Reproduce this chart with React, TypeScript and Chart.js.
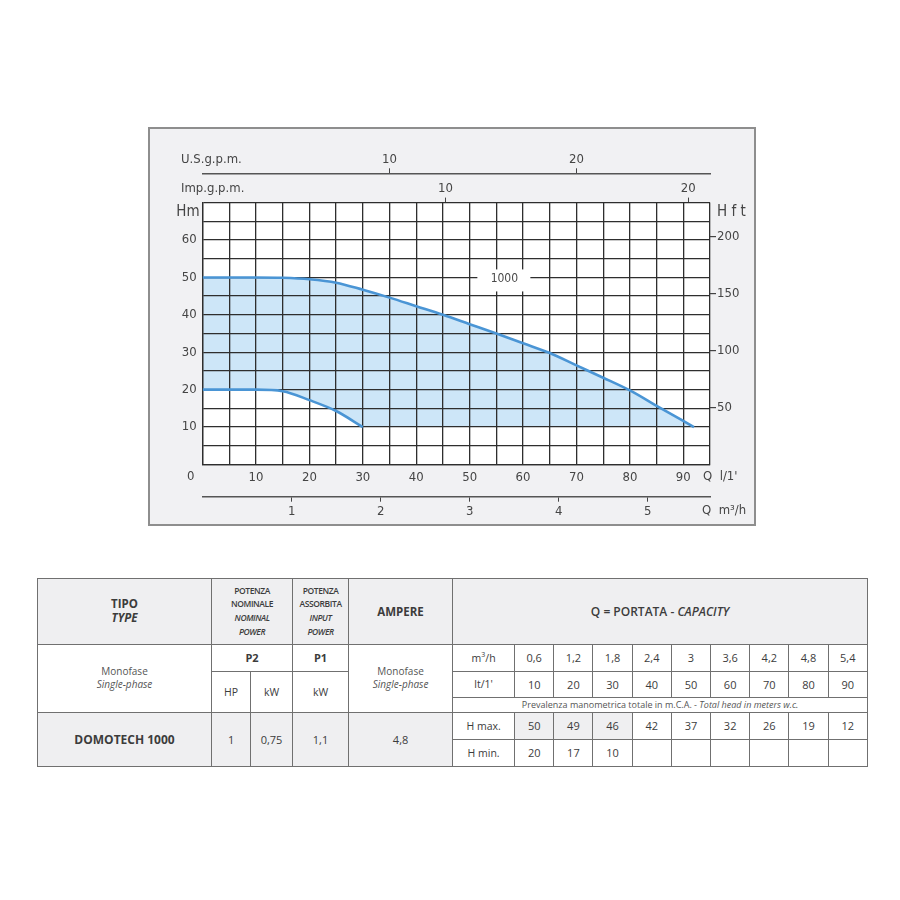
import React, { useEffect, useRef } from "react";
import { Chart, registerables } from "chart.js";

Chart.register(...registerables);

// ---- Curve data (Q in l/min, H in m) ----
const hMaxFlow = [0, 10, 15, 20, 25, 30, 35, 40, 45, 50, 55, 60, 65, 70, 75, 80, 85, 92];
const hMaxHead = [50, 50, 49.9, 49.5, 48.6, 46.7, 44.6, 42.3, 40, 37.5, 35, 32.4, 29.8, 26.5, 23.2, 19.8, 15.7, 10];
const hMinFlow = [0, 10, 15, 20, 25, 30];
const hMinHead = [20, 20, 19.6, 17.2, 14.3, 10];
const fillFloorHead = 10;

const curveLabel = "1000";
const curveLabelFlow = 56.5;
const curveLabelHead = 50;

// ---- Axis ranges / unit conversions ----
const flowMax = 95; // l/min
const headMax = 70; // m
const lpmPerM3h = 1000 / 60;
const lpmPerImpGal = 4.546;
const lpmPerUsGalDrawn = 3.5; // as drawn on the chart
const ftPerM = 3.28084;

// ---- Table data ----
const qM3h = ["0,6", "1,2", "1,8", "2,4", "3", "3,6", "4,2", "4,8", "5,4"];
const qLpm = ["10", "20", "30", "40", "50", "60", "70", "80", "90"];
const hMaxRow = ["50", "49", "46", "42", "37", "32", "26", "19", "12"];
const hMinRow = ["20", "17", "10", "", "", "", "", "", ""];
const modelName = "DOMOTECH 1000";
const modelHP = "1";
const modelKW = "0,75";
const modelP1 = "1,1";
const modelAmp = "4,8";

// ---- Styles ----
const FONT = "'Liberation Sans Narrow', 'DejaVu Sans Condensed', 'Roboto', sans-serif";
const TFONT = "'Open Sans', 'Noto Sans', sans-serif";
const TXT = "#454545";
const GRID = "#2e2e2e";
const LINE = "#4a95d5";
const FILL = "#cde6f8";

const AX_LEFT = 52.6;
const AX_RIGHT = 44;
const AX_US = 44.3;
const AX_IMP = 29.3;
const AX_LPM = 32.2;
const AX_M3H = 27.3;
const CW = 604;
const CH = 395;

const tickFont = { family: FONT, size: 13 };
const hideZero = (c: any) => (c.tick && c.tick.value === 0 ? "rgba(0,0,0,0)" : "#444");

const labelsPlugin = {
  id: "titles",
  afterDraw(chart: any) {
    const { ctx, chartArea: a, scales } = chart;
    const xs = scales.x;
    const ys = scales.y;
    ctx.save();
    // curve label with white box
    const lx = xs.getPixelForValue(curveLabelFlow);
    const ly = ys.getPixelForValue(curveLabelHead);
    ctx.fillStyle = "#ffffff";
    ctx.fillRect(lx - 27, ly - 8, 53, 22);
    ctx.fillStyle = "#4a4a4a";
    ctx.font = `12px ${FONT}`;
    ctx.textAlign = "center";
    ctx.textBaseline = "middle";
    ctx.fillText(curveLabel, lx, ly + 1.5);

    ctx.fillStyle = TXT;
    ctx.font = `13px ${FONT}`;
    ctx.textAlign = "left";
    ctx.fillText("U.S.g.p.m.", a.left - 21.6, scales.us.bottom - 14);
    ctx.fillText("Imp.g.p.m.", a.left - 21.6, a.top - 13.5);
    ctx.fillText("Q  l/1'", a.right - 7, a.bottom + 12.5);
    ctx.fillText("Q  m\u00b3/h", a.right - 8, scales.m3h.top + 14);
    ctx.textAlign = "center";
    ctx.fillText("0", a.left - 12, a.bottom + 12.5);
    ctx.font = `15px ${FONT}`;
    ctx.textAlign = "right";
    ctx.fillText("Hm", a.left - 3, a.top + 9.5);
    ctx.textAlign = "left";
    ctx.fillText("H f t", a.right + 7, a.top + 9.5);
    ctx.restore();
  },
};

function PumpChart() {
  const ref = useRef<HTMLCanvasElement>(null);
  useEffect(() => {
    const chart = new Chart(ref.current as HTMLCanvasElement, {
      type: "line",
      data: {
        datasets: [
          {
            label: "H min",
            data: hMinFlow.map((q, i) => ({ x: q, y: hMinHead[i] })),
            borderColor: LINE,
            borderWidth: 2.6,
            pointRadius: 0,
            cubicInterpolationMode: "monotone",
            fill: { value: fillFloorHead },
            backgroundColor: "#ffffff",
          },
          {
            label: "H max",
            data: hMaxFlow.map((q, i) => ({ x: q, y: hMaxHead[i] })),
            borderColor: LINE,
            borderWidth: 2.6,
            pointRadius: 0,
            cubicInterpolationMode: "monotone",
            fill: { value: fillFloorHead },
            backgroundColor: FILL,
          },
        ],
      } as any,
      options: {
        animation: false,
        responsive: true,
        maintainAspectRatio: false,
        layout: { padding: 0 },
        plugins: {
          legend: { display: false },
          tooltip: { enabled: false },
          filler: { drawTime: "beforeDraw" },
        } as any,
        scales: {
          x: {
            type: "linear",
            position: "bottom",
            min: 0,
            max: flowMax,
            weight: 0,
            ticks: {
              stepSize: 5,
              autoSkip: false,
              maxRotation: 0,
              padding: 5,
              font: tickFont,
              color: TXT,
              callback: (v: any) => (v % 10 === 0 && v !== 0 ? String(v) : ""),
            },
            grid: { color: GRID, lineWidth: 1.3, drawTicks: false },
            border: { display: true, color: GRID, width: 1.3 },
            afterFit: (s: any) => { s.height = AX_LPM; },
          },
          m3h: {
            type: "linear",
            axis: "x",
            position: "bottom",
            min: 0,
            max: flowMax / lpmPerM3h,
            weight: 1,
            ticks: {
              stepSize: 1,
              includeBounds: false,
              autoSkip: false,
              maxRotation: 0,
              padding: 2,
              font: tickFont,
              color: TXT,
              callback: (v: any) => (v === 0 ? "" : String(v)),
            },
            grid: { drawOnChartArea: false, drawTicks: true, tickLength: 5, color: hideZero, lineWidth: 1 },
            border: { display: true, color: "#555", width: 1.4 },
            afterFit: (s: any) => { s.height = AX_M3H; },
          },
          imp: {
            type: "linear",
            axis: "x",
            position: "top",
            min: 0,
            max: flowMax / lpmPerImpGal,
            weight: 0,
            ticks: {
              stepSize: 10,
              includeBounds: false,
              autoSkip: false,
              maxRotation: 0,
              padding: 1,
              font: tickFont,
              color: TXT,
              callback: (v: any) => (v === 0 ? "" : String(v)),
            },
            grid: { drawOnChartArea: false, drawTicks: true, tickLength: 5, color: hideZero, lineWidth: 1 },
            border: { display: false },
            afterFit: (s: any) => { s.height = AX_IMP; },
          },
          us: {
            type: "linear",
            axis: "x",
            position: "top",
            min: 0,
            max: flowMax / lpmPerUsGalDrawn,
            weight: 1,
            ticks: {
              stepSize: 10,
              includeBounds: false,
              autoSkip: false,
              maxRotation: 0,
              padding: 1,
              font: tickFont,
              color: TXT,
              callback: (v: any) => (v === 0 ? "" : String(v)),
            },
            grid: { drawOnChartArea: false, drawTicks: true, tickLength: 5, color: hideZero, lineWidth: 1 },
            border: { display: true, color: "#555", width: 1.4 },
            afterFit: (s: any) => { s.height = AX_US; },
          },
          y: {
            type: "linear",
            position: "left",
            min: 0,
            max: headMax,
            ticks: {
              stepSize: 5,
              autoSkip: false,
              padding: 6,
              font: tickFont,
              color: TXT,
              callback: (v: any) => (v % 10 === 0 && v > 0 && v < headMax ? String(v) : ""),
            },
            grid: { color: GRID, lineWidth: 1.3, drawTicks: false },
            border: { display: true, color: GRID, width: 1.3 },
            afterFit: (s: any) => { s.width = AX_LEFT; },
          },
          hft: {
            type: "linear",
            axis: "y",
            position: "right",
            min: 0,
            max: headMax * ftPerM,
            ticks: {
              stepSize: 50,
              includeBounds: false,
              autoSkip: false,
              padding: 1,
              font: tickFont,
              color: TXT,
              callback: (v: any) => (v === 0 ? "" : String(v)),
            },
            grid: { drawOnChartArea: false, drawTicks: true, tickLength: 6, color: hideZero, lineWidth: 1.2 },
            border: { display: false },
            afterFit: (s: any) => { s.width = AX_RIGHT; },
          },
        } as any,
      },
      plugins: [labelsPlugin],
    });
    return () => chart.destroy();
  }, []);

  return (
    <div
      style={{
        position: "absolute",
        left: 148,
        top: 127,
        width: 608,
        height: 399,
        boxSizing: "border-box",
        border: "2px solid #8e8e8e",
        background: "#f1f1f3",
      }}
    >
      <div
        style={{
          position: "absolute",
          left: AX_LEFT,
          top: AX_US + AX_IMP,
          width: CW - AX_LEFT - AX_RIGHT,
          height: CH - AX_US - AX_IMP - AX_LPM - AX_M3H,
          background: "#ffffff",
        }}
      />
      <div style={{ position: "absolute", left: 0, top: 0, width: CW, height: CH }}>
        <canvas ref={ref} />
      </div>
    </div>
  );
}

const BORDER = "1px solid #707070";
const GRAY = "#efeff1";

function td(extra: React.CSSProperties = {}): React.CSSProperties {
  return {
    border: BORDER,
    padding: 0,
    textAlign: "center",
    verticalAlign: "middle",
    fontSize: 11,
    overflow: "hidden",
    whiteSpace: "nowrap",
    ...extra,
  };
}

function DataTable() {
  const small: React.CSSProperties = { fontSize: 8.5, lineHeight: "13.8px", fontWeight: 600, letterSpacing: -0.4 };
  return (
    <table
      style={{
        position: "absolute",
        left: 37,
        top: 578,
        width: 831,
        borderCollapse: "collapse",
        tableLayout: "fixed",
        fontFamily: TFONT,
        color: "#3c3c3c",
        border: "1.5px solid #7a7a7a",
      }}
    >
      <colgroup>
        <col style={{ width: 174 }} />
        <col style={{ width: 39 }} />
        <col style={{ width: 42 }} />
        <col style={{ width: 56 }} />
        <col style={{ width: 104 }} />
        <col style={{ width: 62 }} />
        {qLpm.map((q) => (
          <col key={q} style={{ width: 39.2 }} />
        ))}
      </colgroup>
      <tbody>
        <tr style={{ height: 65.5 }}>
          <td style={td({ background: GRAY, fontWeight: 700, fontSize: 11.5, lineHeight: "14px" })}>
            TIPO
            <br />
            <i>TYPE</i>
          </td>
          <td colSpan={2} style={td({ background: GRAY })}>
            <div style={small}>
              POTENZA
              <br />
              NOMINALE
              <br />
              <i>NOMINAL</i>
              <br />
              <i>POWER</i>
            </div>
          </td>
          <td style={td({ background: GRAY })}>
            <div style={small}>
              POTENZA
              <br />
              ASSORBITA
              <br />
              <i>INPUT</i>
              <br />
              <i>POWER</i>
            </div>
          </td>
          <td style={td({ background: GRAY, fontWeight: 700, fontSize: 11.5 })}>AMPERE</td>
          <td colSpan={10} style={td({ background: GRAY, fontWeight: 600, fontSize: 12 })}>
            Q = PORTATA - <i>CAPACITY</i>
          </td>
        </tr>
        <tr style={{ height: 27 }}>
          <td rowSpan={3} style={td({ fontSize: 10, lineHeight: "13px", color: "#555" })}>
            Monofase
            <br />
            <i>Single-phase</i>
          </td>
          <td colSpan={2} style={td({ fontWeight: 700, fontSize: 11 })}>P2</td>
          <td style={td({ fontWeight: 700, fontSize: 11 })}>P1</td>
          <td rowSpan={3} style={td({ fontSize: 10, lineHeight: "13px", color: "#555" })}>
            Monofase
            <br />
            <i>Single-phase</i>
          </td>
          <td style={td({ fontSize: 10.5 })}>
            m<sup style={{ fontSize: 7 }}>3</sup>/h
          </td>
          {qM3h.map((v, i) => (
            <td key={i} style={td()}>{v}</td>
          ))}
        </tr>
        <tr style={{ height: 26.7 }}>
          <td rowSpan={2} style={td({ fontSize: 10.5 })}>HP</td>
          <td rowSpan={2} style={td({ fontSize: 10.5 })}>kW</td>
          <td rowSpan={2} style={td({ fontSize: 10.5 })}>kW</td>
          <td style={td({ fontSize: 10.5 })}>lt/1'</td>
          {qLpm.map((v, i) => (
            <td key={i} style={td()}>{v}</td>
          ))}
        </tr>
        <tr style={{ height: 15 }}>
          <td colSpan={10} style={td({ fontSize: 9, lineHeight: "10px", color: "#555" })}>
            Prevalenza manometrica totale in m.C.A. - <i>Total head in meters w.c.</i>
          </td>
        </tr>
        <tr style={{ height: 26.6 }}>
          <td rowSpan={2} style={td({ background: GRAY, fontWeight: 700, fontSize: 12 })}>{modelName}</td>
          <td rowSpan={2} style={td({ background: GRAY })}>{modelHP}</td>
          <td rowSpan={2} style={td({ background: GRAY })}>{modelKW}</td>
          <td rowSpan={2} style={td({ background: GRAY })}>{modelP1}</td>
          <td rowSpan={2} style={td({ background: GRAY })}>{modelAmp}</td>
          <td style={td({ fontSize: 10.5 })}>H max.</td>
          {hMaxRow.map((v, i) => (
            <td key={i} style={td({ background: i < 3 ? GRAY : "#fff" })}>{v}</td>
          ))}
        </tr>
        <tr style={{ height: 27.4 }}>
          <td style={td({ fontSize: 10.5 })}>H min.</td>
          {hMinRow.map((v, i) => (
            <td key={i} style={td()}>{v}</td>
          ))}
        </tr>
      </tbody>
    </table>
  );
}

export default function App() {
  return (
    <div style={{ position: "absolute", left: 0, top: 0, width: 900, height: 900, background: "#ffffff" }}>
      <PumpChart />
      <DataTable />
    </div>
  );
}
